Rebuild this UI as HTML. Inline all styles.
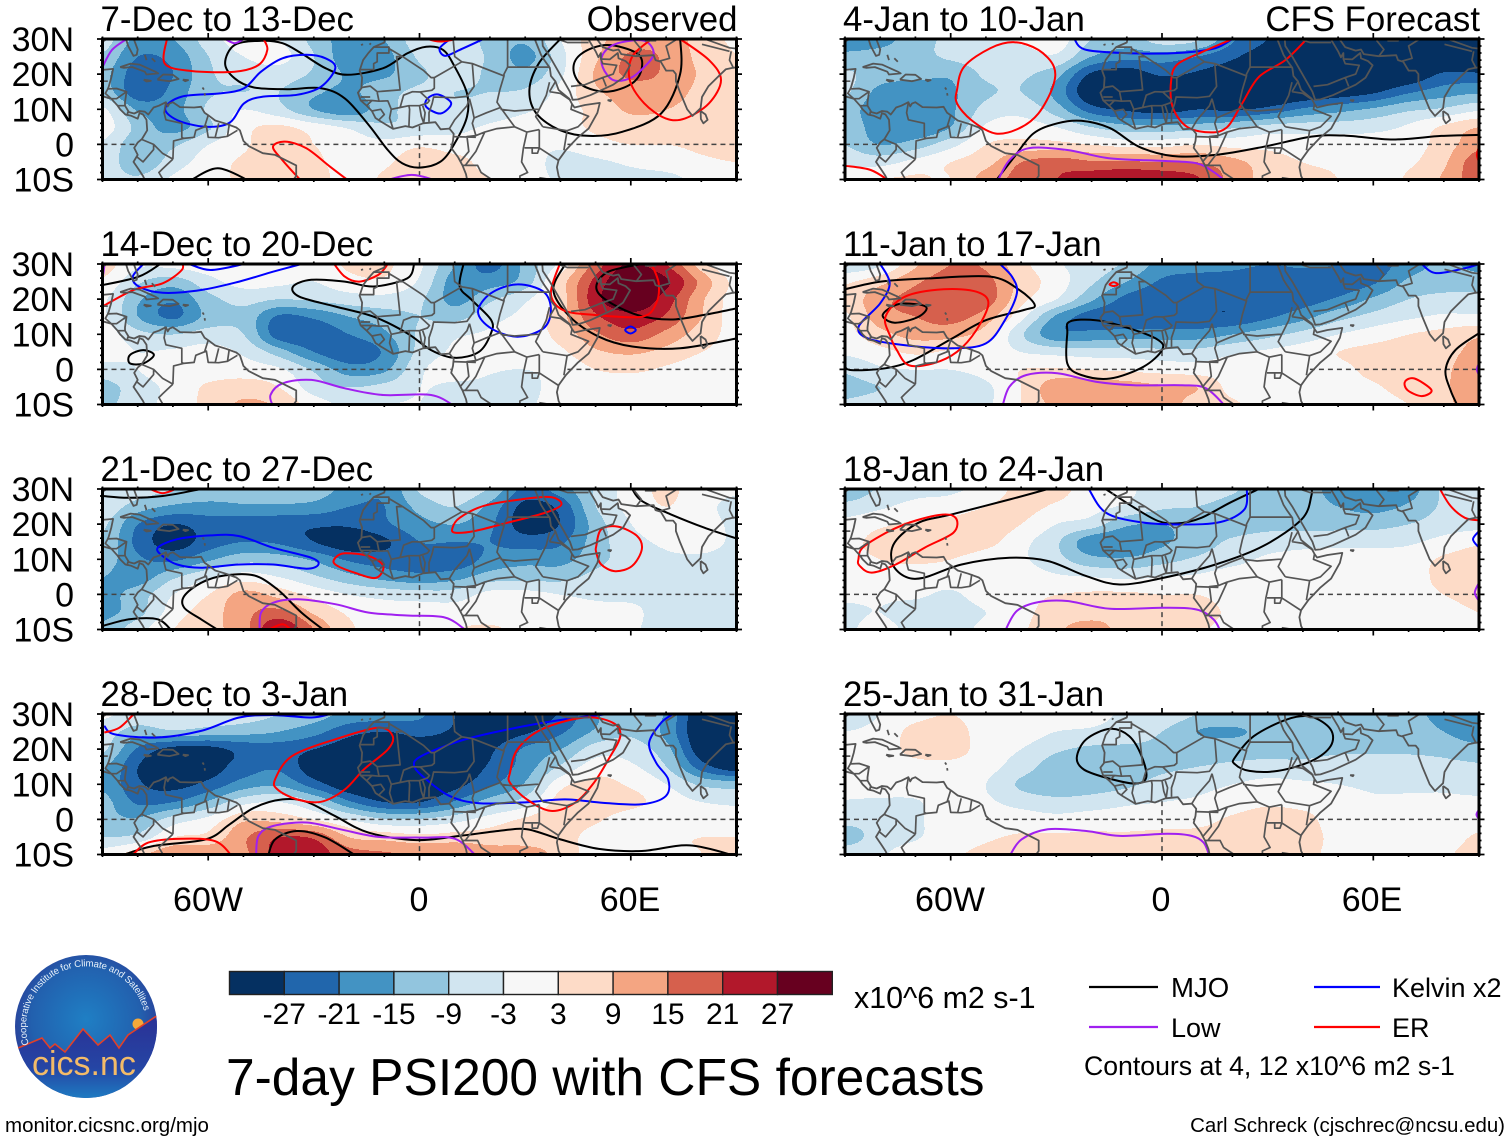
<!DOCTYPE html>
<html lang="en">
<head>
<meta charset="utf-8">
<title>7-day PSI200 with CFS forecasts</title>
<style>
html,body{margin:0;padding:0;background:#fff;width:1510px;height:1142px;overflow:hidden}
svg{display:block}
text{font-family:"Liberation Sans",Arial,sans-serif;fill:#000}
.t34{font-size:34px}.t30{font-size:30px}.t27{font-size:27px}.t20{font-size:20.45px}.tt{font-size:34.8px}
</style>
</head>
<body>
<svg id="figure" xmlns="http://www.w3.org/2000/svg" width="1510" height="1142" viewBox="0 0 1510 1142">
<defs>
<radialGradient id="logoSky" cx="50%" cy="45%" r="55%"><stop offset="0" stop-color="#1f7fc4"/><stop offset="0.7" stop-color="#2260ae"/><stop offset="1" stop-color="#2b3c97"/></radialGradient>
<linearGradient id="logoLand" x1="0" y1="0" x2="0" y2="1"><stop offset="0" stop-color="#2b2f94"/><stop offset="0.6" stop-color="#2545a4"/><stop offset="1" stop-color="#1c86c8"/></linearGradient>
<clipPath id="logoClip"><ellipse cx="86" cy="1026.5" rx="71" ry="71.5"/></clipPath>
</defs>

<g id="panels"></g>

<g>
<text class="t34" x="208" y="911" text-anchor="middle">60W</text>
<text class="t34" x="419" y="911" text-anchor="middle">0</text>
<text class="t34" x="630" y="911" text-anchor="middle">60E</text>
</g>
<g>
<text class="t34" x="950" y="911" text-anchor="middle">60W</text>
<text class="t34" x="1161" y="911" text-anchor="middle">0</text>
<text class="t34" x="1372" y="911" text-anchor="middle">60E</text>
</g>

<g id="colorbar"></g>
<text x="854" y="1008" style="font-size:30.4px">x10^6 m2 s-1</text>
<text x="226" y="1095" style="font-size:51.5px">7-day PSI200 with CFS forecasts</text>

<g>
<line x1="1089" x2="1158" y1="987" y2="987" stroke="#000" stroke-width="2.2"/>
<text class="t27" x="1171" y="997" style="font-size:27.6px">MJO</text>
<line x1="1314" x2="1380" y1="987" y2="987" stroke="#0000ff" stroke-width="2.2"/>
<text class="t27" x="1392" y="997">Kelvin x2</text>
<line x1="1089" x2="1158" y1="1027" y2="1027" stroke="#a020f0" stroke-width="2.2"/>
<text class="t27" x="1171" y="1037">Low</text>
<line x1="1314" x2="1380" y1="1027" y2="1027" stroke="#ff0000" stroke-width="2.2"/>
<text class="t27" x="1392" y="1037">ER</text>
<text x="1084" y="1075" style="font-size:26.65px">Contours at 4, 12 x10^6 m2 s-1</text>
</g>

<g>
<ellipse cx="86" cy="1026.5" rx="71" ry="71.5" fill="url(#logoSky)"/>
<g clip-path="url(#logoClip)">
<circle cx="138" cy="1024" r="5.5" fill="#f5a93a"/>
<path d="M10 1051L18 1048L42 1038L50 1048L55 1044L65 1052L83 1029L98 1045L110 1035L119 1048L128 1035L155 1017L165 1012V1105H10Z" fill="url(#logoLand)" stroke="none"/>
<path d="M10 1051L18 1048L42 1038L50 1048L55 1044L65 1052L83 1029L98 1045L110 1035L119 1048L128 1035L155 1017L165 1012" fill="none" stroke="#e0402a" stroke-width="1.6"/>
</g>
<path id="logoArc" d="M28.9 1044.5A60 60 0 1 1 144.7 1013.5" fill="none"/>
<text style="font-size:9.6px;fill:#e8f1fa"><textPath href="#logoArc" textLength="191">Cooperative Institute for Climate and Satellites</textPath></text>
<text x="32" y="1075" style="font-size:34px;fill:#f3bb68">cics.nc</text>
</g>

<text x="5" y="1132" style="font-size:20.5px">monitor.cicsnc.org/mjo</text>
<text class="t20" x="1505" y="1132" text-anchor="end">Carl Schreck (cjschrec@ncsu.edu)</text>
</svg>

<script>
// ---------- axes ----------
const gridLons = [-90,-80,-70,-60,-50,-40,-30,-20,-10,0,10,20,30,40,50,60,70,80,90];
const gridLats = [30,25,20,15,10,5,0,-5,-10];
const latTickLabels = ["30N","20N","10N","0","10S"];
const latTickValues = [30,20,10,0,-10];
const lonMajorTicks = [-60,0,60];
const bandEdges = [-27,-21,-15,-9,-3,3,9,15,21,27];
const bandColors = ["#053061","#2166ac","#4393c3","#92c5de","#d1e5f0","#f7f7f7","#fddbc7","#f4a582","#d6604d","#b2182b","#67001f"];

// ---------- shaded PSI200 anomaly fields (rows = gridLats, columns = gridLons) ----------
const psiDec07 = [
[-6,-17,-15,-6,0,-3,-11,-18,-15,-5,-5,-11,-14,-3,7,12,13,6,2],
[-10,-21,-19,-9,-3,-1,-9,-19,-17,-8,-6,-10,-17,-5,8,16,14,7,3],
[-13,-24.5,-21,-10,-7,-6,-10,-16,-16,-10,-7,-10,-13,-4,10,16,14,8,3],
[-11,-25,-19,-10,-9,-9,-14,-16,-11,-8,-9,-9,-8,-1,8,12,12,7,3],
[-2,-16,-17,-8,-3,-7,-15,-19,-11,-7,-8,-7,-4,0,5,10,9,6,4],
[0,-11,-17,-10,1,4,0,-4,-8,-7,-5,-2,0,1,4,6,6,5,5],
[-4,-13,-10,-3,2,7,3,0,-1,2,0,0,-1,-2,1,3,3,4,5],
[-5,-13,-6,0,4,6,4,1,2,7,5,1,0,-5,-4,-2,0,2,3],
[-6,-8,-2,1,4,5,5,1,4,8,5,3,0,-4,-5,-5,-5,-1,1]];
const psiDec14 = [
[6,-2,-1,0,-1,-3,-1,4,4,-2,-15,-23,-13,-1,18,28,21,6,-3],
[2,-8,-12,-5,-1,-2,-3,1,2,-4,-18,-18,-12,6,23,33,28,13,1],
[-2,-14,-20,-11,-7,-9,-8,-6,-5,-8,-17,-10,-4,6,25,32,24,10,0],
[-2,-15,-22,-13,-11,-22,-20,-15,-12,-9,-11,-5,-1,7,20,25,20,9,0],
[0,-7,-9,-6,-9,-24,-25,-21,-16,-8,-4,-2,0,5,14,19,13,6,1],
[0,-3,-2,-1,-4,-12,-21,-25,-20,-7,-2,0,0,2,8,10,7,3,1],
[-6,-3,1,0,0,-2,-10,-18,-16,-4,-1,-2.5,-3,-1,3,4,2,0,0],
[-11,-6,-1,4,6,3,-6,-9,-7,-3,-4,-4,-5,0,0,0,0,0,0],
[-11,-5,-1,5,10,8,0,-4,-3,-3,-5,-4,-4,0,0,0,0,0,0]];
const psiDec21 = [
[-3,-6,-9,-11,-11,-11,-12,-17,-20,-8,-5,-10,-23,-18,-8,0,4,0,-2],
[-5,-12,-16,-17,-16,-16,-17,-21,-21,-13,-9,-17,-29,-25,-9,-1,3,-1,-5],
[-8,-21,-27,-24,-24,-25,-26,-26,-22,-17,-15,-20,-30,-26.5,-12,-3,0,-1,-4],
[-10,-23,-30,-24,-21,-22,-27,-31,-28,-21,-21,-21,-24,-22,-12,-5,-2,-1,-4],
[-12,-20,-22,-16,-11,-12,-16,-22,-24,-24,-25,-19,-17,-17,-11,-6,-4,-4,-5],
[-15,-18,-10,-4,0,-3,-8,-13,-17,-19,-17,-12,-11,-11,-7,-5,-5,-5,-5],
[-17,-12,-3,3,11,7,1,-3,-5,-6,-6,-1,-1,-3,-4,-4,-4,-4,-5],
[-17,-11,0,6,13,17,8,2,0,0,0,0,0,-1,-1,-2,-5,-5,-6],
[-13,-5,3,7,13,27,15,4,2,2,3,4,1,0,3,-2,-5,-5,-6]];
const psiDec28 = [
[-2,-5,-3,-4,-6,-9,-12,-17,-18,-20,-27,-32,-32,-26,-16,-10,-16,-33,-34],
[-6,-12,-10,-12,-13,-15,-19,-25,-27,-25,-28,-31,-28,-22,-14,-10,-17,-33,-34],
[-8,-22,-29,-29,-25,-24,-27,-31,-33,-32,-32,-28,-20,-15,-6,-6,-13,-31,-33],
[-14,-27,-32,-30,-24,-22,-31,-35,-36,-35,-32,-26,-18,-8,0,-2,-9,-24,-31],
[-16,-26,-29,-25,-18,-16,-24,-32,-34,-33,-29,-22,-14,1,5,2,-3,-10,-12],
[-13,-22,-21,-14,-5,-3,-9,-20,-27,-27,-20,-12,-6,6,8,5,0,-3,-4],
[-13,-14,-6,-1,8,7,3,-3,-8,-8,-5,0,4,7,4,-1,0,0,-1],
[-9,-7,3,5,14,21,20,9,7,5,6,6,6,6,0,-1,2,3,3],
[0,7,15,14,14,23,24,18,16,15,15,12,12,7,0,-1,2,3,6]];
const psiJan04 = [
[-20,-18,-11,-8,-5,-2,0,-9,-12,-6,-8,-20,-27,-32,-33,-33,-33,-33,-33],
[-13,-12,-11,-8,-6,-6,-4,-15,-19,-18,-21,-26,-31,-34,-36,-36,-36,-36,-36],
[-8,-12,-13,-14,-8,-8,-13,-28,-31,-26,-28,-31,-34,-36,-36,-35,-33,-26,-26],
[-8,-17,-19,-16,-10,-9,-17,-33,-36,-35,-32,-34,-35,-33,-31,-28,-22,-18,-16],
[-12,-19,-19,-16,-7,-5,-12,-24,-28,-30,-27,-28,-25,-20,-17,-14,-10,-8,-4],
[-10,-19,-20,-15,-2,0,-3,-9,-13,-13,-12,-10,-7,-6,-6,-5,-2,4,9],
[-9,-15,-12,-5,3,5,5,3,1,1,3,1,1,0,0,0,0,6,13],
[-4,-5,-1,3,7,15,18,16,16,15,15,11,6,3,2,1,2,8,19],
[0,3,4,3,12,17,21,25,27,26,22,13,7,5,3,0,4,10,19]];
const psiJan11 = [
[-8,-4,8,15,14,5,-2,-6,-10,-17,-17,-19,-21,-20,-21,-24,-18,-14,-17],
[2,7,14,18,17,7,0,-8,-15,-22,-25,-25,-26,-25,-25,-22,-14,-12,-12],
[5,13,17,18.5,18,5,-3,-14,-23,-26,-26,-26,-26,-24,-20,-14,-9,-7,-7],
[2,12,15,17,12,-1,-16,-24,-25,-26,-26,-26,-22,-17,-11,-7,-4,-2,-2],
[1,7,11,11,6,-8,-19,-19,-18,-18,-18,-15,-11,-7,-3,0,3,5,8],
[-2,1,4,2,1,-3,-5,-6,-6,-7,-7,-4,-2,0,3,5,6,7,11],
[-8,-4,-3,-3,-1,3,4,3,2,1,0,0,0,0,1,5,7,8,13],
[-11,-9,-7,-6,-4,3,13,13,12,10,9,1,0,0,0,2,6,8,14],
[-8,-6,-5,-5,-4,3,11,12,13,14,5,4,0,0,0,0,3,7,14]];
const psiJan18 = [
[-14,-8,-5,-4,-1,5,5,0,-2,-5,-4,-8,-13,-12,-18,-20,-18,-8,-6],
[-7,-4,-1,0,3,5,2,-1,-4,-8,-9,-12,-14,-12,-15,-17,-14,-8,-6],
[-1,2,4,5,6,3,-3,-6,-14,-15,-12,-12,-11,-11,-11,-11,-9,-6,-5],
[1,5,7,7,5,-1,-8,-19,-20,-16,-12,-8,-6,-5,-5,-5,-4,-1,2],
[1,3,4,3,0,-2,-7,-13,-14,-11,-8,-5,-2,-1,0,0,0,4,6],
[0,1,0,0,0,0,-2,-3,-4,-3,-2,0,0,0,0,0,0,5,7],
[-2,-2,-2,-4,0,1,3,4,4,3,3,1,0,0,0,0,0,3,6],
[-4,-3,-6,-6,-3,1,6,7,7,6,5,2,0,0,0,0,0,0,3],
[-4,-1,-5,-6,-1,2,8,11,7,6,4,1,0,0,0,0,0,0,0]];
const psiJan25 = [
[-6,-3,1,3,0,0,0,-1,-4,-4,-9,-10,-10,-10,-11,-11,-12,-18,-20],
[-3,-1,5,6,0,0,-3,-4,-6,-9,-15,-16,-13,-11,-11,-11,-11,-15,-19],
[0,0,5,6,0,-3,-8,-10,-10,-10,-11,-11,-11,-11,-10,-10,-10,-11,-13],
[2,0,1,1,-1,-6,-12,-11,-11,-10,-9,-8,-7,-7,-6,-6,-6,-7,-8],
[0,0,0,0,-3,-10,-13,-12,-10,-7,-5,-3,-1,-2,-3,-4,-4,-4,-5],
[-3.5,-4,-3.5,0,-2,-5,-7,-6,-4,-3,-2,0,2,1,0,-2,-2,-2,-2],
[-7,-7,-4,0,0,0,-1,0,0,0,1,4,6,5,0,0,0,0,0],
[-12,-6,-3.5,0,2,4,4,4,4,5,5,6,7,6,1,0,0,0,4],
[-5,-3.5,0,2,5,9,6,4,4,5,5,6,7,5,1,0,0,2,6]];

// ---------- contour series, [lon, lat] vertices; a repeated first vertex closes the contour ----------
const dec07Mjo = [
[[-45,29.5],[-52.5,28.3],[-55.2,23.1],[-52.5,18.8],[-47,16.2],[-37.6,15.7],[-28,16],[-21.2,13.1],[-14.4,5.5],[-9,-1.6],[-4.9,-5.4],[0,-6.6],[6,-4.9],[10,.3],[13.5,7.9],[13.5,14.5],[10,22.1],[6.7,26.9],[1.9,27.8],[-3.5,25.9],[-10.3,21.7],[-20.5,19.8],[-26.7,21.7],[-33.5,25.9],[-38.9,28.8],[-45,29.5]],
[[40,30],[33.9,23.1],[31.2,15.5],[33.2,8.8],[40,4],[48.2,2.4],[57.7,3.6],[68.6,8.8],[74,20],[74,30.5]],
[[53.3,28.3],[61.8,25.9],[63.1,21.7],[60.4,17.4],[53.3,15],[46.1,16.9],[43.7,21.7],[46.1,25.9],[53.3,28.3]],
[[-64.5,-11],[-64,-9.7],[-57.3,-6.8],[-49.8,-9.7],[-49,-11]]];
const dec07Kelvin = [
[[-23.9,21.7],[-26.7,24.5],[-32.1,25.5],[-38.9,24.5],[-45,20.7],[-49.8,16],[-56.6,14.5],[-67.5,13.6],[-72.2,10.3],[-68.8,6.9],[-60.7,5],[-53.9,6.2],[-49.8,11.7],[-44.4,13.6],[-34.8,14.1],[-28,16.4],[-23.9,21.7]],
[[18.2,30],[11.4,26.9],[7.3,25.2],[5.7,27.3],[8.7,30]],
[[5.3,14.2],[9,11.7],[6,8.8],[1.9,10.7],[2.3,13.1],[5.3,14.2]]];
const dec07Low = [
[[-90,22],[-87.3,26.9],[-83.1,30]],
[[-55.2,30],[-52.5,28.8],[-49.8,30]],
[[-10.3,-10.5],[-2.2,-8.7],[5.3,-10.5]],
[[52.2,25.9],[56.3,28.8],[63.8,29.5],[66.5,25.9],[63.8,22],[59.7,18.8],[55,18.3],[52,22],[52.2,25.9]]];
const dec07Er = [
[[-71.6,30.5],[-72.3,23],[-64.8,20.9],[-52.5,20.7],[-45.7,22.6],[-43.2,26.9],[-44.3,30]],
[[-33.5,-10.5],[-38.9,-4.5],[-41.6,-.7],[-38.2,.8],[-32.1,-1.1],[-25.3,-6.4],[-19.9,-10.5]],
[[65.9,30],[60.4,25],[59.7,18.3],[63.8,11.7],[69.9,7.4],[75.4,7.4],[82.2,11.7],[85.6,18.3],[82.2,24],[74,30]],
[[1.2,30.3],[5.9,29.3],[12.1,30.3]]];

const dec14Mjo = [
[[-90,24],[-79.7,26.4],[-73.6,30]],
[[-78.4,5.5],[-75.4,4.1],[-78.4,1.7],[-82.2,1.7],[-82.2,4.1],[-78.4,5.5]],
[[-1.5,30],[-3.5,25.9],[-13,23.6],[-21.2,25],[-30.7,25.5],[-35.9,23.6],[-34.1,20.7],[-23.9,17.9],[-13,15],[-3.5,10.3],[3.3,5.5],[10,3.3],[16.9,5],[20.3,10.3],[20.3,14.1],[14.8,19.8],[11.4,23.6],[12.5,30]],
[[41.4,30],[38,22.6],[42.7,15],[50.9,9.3],[60.4,6.5],[74,6],[90,8.8]],
[[63,30],[53.6,27.8],[50.2,23.6],[52.9,19.8],[61.8,15.5],[71.3,14.2],[80.8,15.5],[90,17.4]]];
const dec14Kelvin = [
[[-78.4,30],[-81.4,26.4],[-79.7,23.6],[-72.9,21.8],[-62,22.6],[-51.2,25],[-41.6,27.8],[-33.5,30]],
[[-65.4,30],[-59.3,28.3],[-49.8,30]],
[[27.8,24.2],[35.2,22.1],[37.3,16.9],[35.2,11.7],[27.8,9.3],[20.3,11.7],[16.6,16.4],[20.3,21.7],[27.8,24.2]],
[[59.9,12.2],[61.4,11.2],[59.9,10.2],[58.4,11.2],[59.9,12.2]]];
const dec14Low = [
[[-41.6,-10.5],[-42.3,-7.3],[-38.9,-4],[-30.7,-3],[-21.2,-5.4],[-10.3,-7.3],[3.3,-7.3],[10,-10.5]],
[[-89.4,30],[-89.8,27]]];
const dec14Er = [
[[-90,17.9],[-81.2,22.6],[-72.9,24.5],[-67.5,28.3],[-67.5,30.5]],
[[-24.6,30.5],[-21.2,26.4],[-17.1,25],[-11.7,26.9],[-9,30]],
[[40,30.5],[37.3,21.7],[40.7,16.9],[49.5,15.5],[63.1,15],[67.2,18.8],[67.9,24.5],[65.9,30]]];

const dec21Mjo = [
[[-90,28],[-82.4,27.5],[-72.9,28],[-62,30]],
[[-56.6,-10.5],[-62,-7.1],[-66.8,-3.8],[-66.8,-.5],[-62,3.3],[-55.2,5.4],[-47,5.4],[-40.3,1.4],[-33.5,-5.2],[-26.7,-10.5]],
[[-90,-9],[-82.4,-7.1],[-74.3,-7.1],[-70.2,-10.5]],
[[60.4,30],[63.1,26.6],[71.3,22.8],[80.8,19],[90,15.9]]];
const dec21Kelvin = [
[[-74.3,13.3],[-68.8,15.7],[-59.3,16.8],[-51.2,16.6],[-41.6,13.3],[-30.7,10.4],[-28.7,8.5],[-32.1,7.3],[-41.6,8.5],[-51.2,8.5],[-62,7.6],[-68.8,8.5],[-72.9,10.9],[-74.3,13.3]]];
const dec21Low = [
[[-45.4,-10.5],[-45,-5.2],[-41.6,-2.4],[-34.8,-1.4],[-23.9,-2.8],[-14.4,-5.2],[-3.5,-6],[7.3,-6.6],[13.5,-10.5]]];
const dec21Er = [
[[-77,30.2],[-72.9,28.8],[-68.8,30.2]],
[[9.4,19],[11.4,21.8],[18.2,25.2],[29.1,27.1],[37.3,27.7],[40.3,25.6],[35.9,23.3],[25,20.4],[15.5,18],[10,17.6],[9.4,19]],
[[-23.9,10.4],[-21.2,11.7],[-14.4,10.9],[-10.3,8.1],[-12.4,4.7],[-18.5,6.2],[-23.9,8.5],[-23.9,10.4]],
[[50.2,13.8],[51.6,18.5],[56.3,19.3],[61.8,16.6],[63.1,12.8],[60.4,8.1],[55.6,6.6],[51.6,8.5],[50.2,11.9],[50.2,13.8]],
[[-43.7,-10.5],[-38.9,-8.5],[-36.2,-10.5]]];

const dec28Mjo = [
[[-85.2,-10.5],[-75.7,-7.6],[-60.7,-5.7],[-53.9,-1.4],[-47,3.3],[-38.9,5.7],[-32.1,5],[-23.9,.9],[-14.4,-3.8],[-.8,-5.9],[11.4,-4.7],[22.3,-3.3],[30.5,-2.8],[40,-5.7],[50.9,-8.4],[63.1,-9],[76.7,-7.4],[90,-10.5]],
[[-43,-10.5],[-41,-5.7],[-34.8,-3.3],[-26.7,-5.2],[-17.8,-10.5]]];
const dec28Kelvin = [
[[-89.5,26.6],[-86.5,24.2],[-74.3,23.3],[-62,25.2],[-51.2,29],[-41.6,29.7],[-30.7,29],[-25.3,30]],
[[53.6,30],[41.4,28.5],[25,25.6],[11.4,22.3],[.5,18],[-1.5,15.2],[1.9,11.4],[8.7,6.6],[16.9,4.6],[30.5,4.9],[41.4,5.7],[52.2,4.7],[63.1,4.3],[69.9,6.6],[70.6,11.4],[67.2,16.1],[65.2,21.8],[68.6,27.5],[72,30]]];
const dec28Low = [
[[-46.4,-10.5],[-45.7,-4.7],[-41.6,-1.9],[-32.1,-.9],[-22.6,-2.8],[-11.7,-5],[.5,-5.2],[10,-5.5],[16.2,-10.5]]];
const dec28Er = [
[[-89.5,24.7],[-85.2,26.1],[-81.1,30]],
[[-81.8,-10.5],[-77,-6.6],[-67.5,-5.5],[-58,-6.2],[-53.2,-10.5]],
[[-41,11.4],[-36.2,18],[-23.9,22.8],[-11.7,26.1],[-7.6,23.7],[-9,19.9],[-15.8,14.2],[-21.2,8.5],[-28,5],[-34.8,5.7],[-40.3,8.5],[-41,11.4]],
[[25.7,13.3],[27.8,19.9],[34.6,25.6],[46.8,29],[54.9,27.5],[57,23.7],[53.6,17],[49.5,10.4],[44.1,4.7],[37.3,2.4],[30.5,5.7],[25.7,10.4],[25.7,13.3]]];

const jan04Mjo = [
[[-47.3,-10.5],[-41.9,-3.5],[-36.5,3.1],[-29.7,6],[-22.9,6.7],[-14.7,4.6],[-6.5,-.7],[3,-3.3],[15.2,-3],[28.8,-.7],[42.4,2.2],[52,2.5],[65.6,1.4],[79.3,2.4],[90,2.7]]];
const jan04Kelvin = [
[[-24.9,30],[-21.5,26.9],[-7.9,25.9],[5.7,26.1],[15.2,27.4],[20,30]]];
const jan04Low = [
[[-46.7,-10.5],[-43.3,-4.5],[-37.8,-1.1],[-26.9,-1.6],[-14.7,-4],[.3,-4.7],[9.8,-5.4],[14.6,-7.8],[18,-10.5]]];
const jan04Er = [
[[-58.2,15.5],[-56.2,22.1],[-48.7,27.4],[-41.9,29.1],[-35.1,26.9],[-30.7,22.1],[-31,16.4],[-35.1,8.8],[-40.5,4.6],[-47.3,3.1],[-54.1,6.9],[-58.2,11.7],[-58.2,15.5]],
[[41.1,30],[35,24],[27.5,19.2],[22.7,11.6],[18.6,5],[13.9,3.4],[7.1,5],[3,10.7],[2.6,18.3],[4.4,22.8],[11.2,26.2],[20,30]],
[[-90,-6.1],[-82.7,-7.3],[-77.3,-10.5]],
[[90,-.7],[89.4,-3],[90,-5]]];

const jan11Mjo = [
[[-90,22.8],[-79.9,25],[-66.4,25.9],[-48.7,26.4],[-40.5,22.6],[-36.1,18.3],[-39.2,16.9],[-50,14],[-59.6,8.8],[-70.5,2.7],[-78.6,.3],[-88.1,-.2],[-90,.8]],
[[-79.3,15.5],[-74.6,18.6],[-67.1,17.9],[-69.1,15],[-75.9,13.3],[-79.3,15.5]],
[[-26.9,10.3],[-26.2,13.6],[-18.8,14],[-9.3,11.7],[-1.1,8.4],[0,5.5],[-5.2,.8],[-14.7,-2.6],[-22.9,-1.6],[-26.9,1.7],[-26.9,10.3]],
[[90,10.3],[83.3,5.5],[80.5,-.2],[81.9,-5.9],[84,-10.5]]];
const jan11Kelvin = [
[[-80,30],[-77.3,24.5],[-80,18.8],[-86.1,12.2],[-83.4,8.8],[-73.2,6.9],[-59.6,6],[-50,7.4],[-44.6,14],[-41.2,21.7],[-42.6,26.4],[-46,30]],
[[73.7,30],[77.8,27.4],[86,28.8],[90,30]]];
const jan11Low = [
[[-45.3,-10.5],[-43.3,-4.9],[-38.5,-1.6],[-29.7,-1.1],[-18.8,-3.5],[-7.9,-4.5],[5.7,-4.5],[12.5,-5.4],[18,-10.5]],
[[90,1.7],[89.4,0],[90,-1.6]]];
const jan11Er = [
[[-77.1,9.3],[-78.5,15],[-73,20.7],[-62,22.8],[-52.7,22.1],[-49.3,18.8],[-52.7,11.2],[-58.2,5],[-65,1.7],[-71.9,1.2],[-75.3,5.5],[-77.1,9.3]],
[[-13.7,24.8],[-12.5,24.2],[-13.7,23.7],[-14.9,24.2],[-13.7,24.8]],
[[69,-3.5],[71.7,-2.6],[76.5,-5.9],[73.7,-7.6],[69.7,-5.9],[69,-3.5]]];

const jan18Mjo = [
[[-32.4,30],[-43.3,27],[-59.6,22.8],[-69.1,20.4],[-75.9,14.8],[-76.6,9],[-73.2,5.2],[-67.8,4.7],[-56.9,8.5],[-43.3,10.4],[-32.4,9.5],[-21.5,5.2],[-12,2.8],[.3,4.7],[15.2,8.5],[28.8,13.8],[39.7,21.4],[42.4,28],[42.4,30.5]],
[[-16,30],[-7.9,24.7],[-1.1,20.9],[4.4,20.2],[11.2,21.8],[19.3,26.1],[27.5,30]]];
const jan18Kelvin = [
[[-20.8,30],[-16,23.3],[-6.5,20.6],[5.7,19.9],[16.6,20.6],[23.4,24.2],[24.1,30]],
[[90,18],[88.3,15.7],[90,13.3]]];
const jan18Low = [
[[-44.6,-10.5],[-41.2,-4.7],[-35.1,-2.2],[-26.9,-1.9],[-14.7,-4.1],[.3,-3.8],[9.8,-4.3],[14.6,-7.1],[16.6,-10.5]],
[[90,3.3],[88.8,.5],[90,-1.9]]];
const jan18Er = [
[[-86.2,10],[-84.4,13.8],[-74.2,19.5],[-63.3,22.6],[-58.6,21.8],[-59.2,17.6],[-67.4,13.3],[-75.6,8.5],[-82.4,6.2],[-85.8,8.1],[-86.2,10]],
[[78.9,30],[81.9,25.2],[86,21.8],[90,21.1]]];

const jan25Mjo = [
[[-24.2,17.6],[-21.5,22.8],[-14.7,25.8],[-9.3,23.7],[-5.8,18],[-4.5,11.9],[-7.9,10.2],[-16,11.9],[-22.2,14.2],[-24.2,17.6]],
[[20.7,17.6],[26.1,23.7],[35.6,28.5],[42.4,29.2],[47.9,25.6],[47.9,20.9],[42.4,16.6],[32.9,13.8],[24.8,13.8],[20.7,15.7],[20.7,17.6]]];
const jan25Kelvin = [];
const jan25Low = [
[[-43.3,-10.5],[-39.9,-5.7],[-32.4,-2.8],[-21.5,-3.3],[-12,-4.7],[1.6,-4.1],[8.4,-4.7],[11.8,-6.6],[13.5,-10.5]],
[[90,2.8],[89.3,1.4],[90,0]]];
const jan25Er = [];

// ---------- political map, [lon, lat] vertices ----------
const coastlines = [
[[-90,13.7],[-87.5,13],[-85.7,11],[-85,10],[-83.5,8.5],[-82,8.2],[-80,7.3],[-79.5,8.9],[-78.5,8.5],[-77.5,7],[-77.3,4],[-78.8,1.5],[-80,.5],[-81,-1],[-80,-3],[-81.2,-5],[-79.8,-7],[-78.5,-9],[-77.8,-10.5]],
[[-90,21.2],[-87,21.5],[-87.5,19],[-88.2,16.5],[-88.5,15.8],[-86,15.9],[-83.2,15],[-83.6,12],[-83.6,11],[-82.5,9.2],[-81,8.8],[-79.5,9.5],[-78,9.3],[-77,8.5],[-75.5,10.5],[-74,11],[-72,12],[-71.5,10.8],[-71,11.6],[-70,12],[-68,10.6],[-64,10.5],[-62,10.7],[-61,9],[-60,8.3],[-58,6.8],[-55,5.9],[-52,4.8],[-51,4],[-50,1],[-48.5,-.5],[-44.5,-2.5],[-41,-3],[-37,-5],[-35,-6],[-35,-9],[-36.5,-11]],
[[-90,29.2],[-88,30.5]],
[[-83.5,30.5],[-82.7,28],[-81.2,25.2],[-80.3,25.5],[-80,27],[-81.3,30.5]],
[[-85,22],[-82,23],[-79.5,22.7],[-75,20.7],[-74.2,20.2],[-77.5,19.9],[-78,20.7],[-81.5,22],[-84,21.8],[-85,22]],
[[-74.4,18.4],[-72.8,19.9],[-70,19.8],[-68.4,18.6],[-71,18],[-74.4,18.4]],
[[-78.3,18.4],[-76.3,18.1],[-77.5,17.9],[-78.3,18.4]],
[[-67.2,18.4],[-65.7,18.3],[-66.5,18],[-67.2,18.4]],
[[-78,25.5],[-77.5,24]],[[-76,24.5],[-75,23.5]],[[-61.6,16.2],[-61.2,15.6]],[[-61,14.6],[-60.9,13.9]],
[[-9.7,30.5],[-10,29],[-13,27.7],[-14.5,26],[-16,24],[-17,21],[-16.3,19],[-16.5,16],[-17.5,14.7],[-16.7,12.5],[-15,11],[-13.5,9.5],[-12.5,7.5],[-11,6.5],[-7.5,4.4],[-4,5.2],[-2,4.8],[1,6],[4.5,6.3],[6,4.3],[8.5,4.5],[9.7,3],[9.5,1],[9,-1],[11,-3.7],[12.2,-6],[13.2,-8.5],[13.7,-11]],
[[32.5,30.5],[33.5,28],[34.5,25.5],[35.5,23.9],[37,21.8],[37.3,19.5],[38.6,17.9],[39.5,15.5],[42.5,13],[43.3,11.5],[44,10.5],[47,11.2],[51.2,11.8],[50.5,9],[48,4.5],[45,2],[41.5,-1.7],[39.5,-4.5],[39,-6.5],[39.5,-9],[40.5,-11]],
[[34.8,30.5],[35,28],[37,25],[39,21.5],[41,18],[42.7,15],[43.5,12.7],[45,12.8],[48.5,14],[52.2,15.7],[55,17],[57.8,19],[59.8,22.5],[58.5,23.7],[56.5,24.5],[56.3,26],[54,24.2],[51.5,24.3],[51.5,26],[50.8,24.8],[50,26.5],[48.2,29.5],[48,30.5]],
[[48.5,30.5],[50.5,29.8],[52,27.7],[55,26.7],[56.5,27],[57.3,25.7],[61.5,25.1],[66.5,25.4],[67,24],[68.5,23.5],[70,21],[72,21],[72.8,20],[72.8,18],[74,14.8],[76,10],[77.5,8.1],[79.8,10.3],[80.2,13.5],[82,16.5],[85,19.5],[87,21.4],[89,21.8],[90.5,22]],
[[79.8,9.5],[81.2,8.5],[81.8,7],[80.6,6],[79.9,7.2],[79.8,9.5]],
[[53.4,12.6],[54.4,12.6],[54.2,12.3],[53.4,12.6]],
[[-16.6,28.3],[-16,28.5]],[[-14.2,28.4],[-13.8,28.8]]];
const borders = [
[[-88.5,15.8],[-89.2,14.5],[-87.5,13]],[[-83.2,15],[-86,13],[-87.5,13]],[[-83.7,11],[-85.7,11]],[[-82.8,9.3],[-83,8.2]],[[-88.5,18],[-89,18],[-91,18]],
[[-72,12],[-72.5,9],[-72,7],[-67.5,6],[-67.5,2],[-67,1.7]],[[-70,-4.2],[-69.8,1],[-67,1.7]],[[-70,-4.2],[-73,-2.5],[-75.5,0],[-78.8,1.4]],[[-80.3,-3.5],[-78.5,-5],[-75.5,-1.5],[-75.5,0]],[[-70,-4.2],[-73,-7],[-74,-8],[-72.5,-10.5]],
[[-60,8.3],[-61,5],[-60.5,5.2]],[[-67,1.7],[-64,2],[-63.5,4],[-60.5,5.2],[-60,2],[-57,1.9],[-54.5,2.3],[-51.7,4]],[[-57,6],[-58,2]],[[-54,5.8],[-54.5,2.3]],
[[-13,27.7],[-8.7,27.7],[-8.7,26],[-12,26],[-12,23.5],[-13,23],[-13,21.3],[-17,21.3]],
[[-8.7,27.3],[-4.8,25],[-6.5,25],[-5.5,15.5],[-12,15],[-14,16.6],[-16.4,16.2]],
[[-4.8,25],[1.2,21],[3.3,19],[4.2,19],[4.2,16],[3.5,15.4],[.2,14.9],[-2,15],[-4.5,14],[-5.5,10.5],[-3,11],[0,11],[2.3,11.8],[2.8,12.5],[.2,14.9]],
[[9.5,30.5],[10,25],[12,23.5],[15,23],[24,19.5],[24,20],[25,22],[25,30.5]],[[25,22],[36.9,22]],[[4.2,19],[12,23.5]],
[[24,19.5],[22.8,15.5],[22,12],[23,10.5]],[[15,23],[15.5,16.5],[13.5,13.7],[10,13.3],[4,13.5],[3.6,11.7],[2.7,9],[2.7,6.4]],
[[1.2,6.1],[1.6,9],[.9,11]],[[1.2,6.1],[.5,8],[0,11]],[[-3,5],[-2.8,10],[-3,11]],
[[-7.5,4.4],[-8.5,7.5],[-8,10],[-5.5,10.5]],[[-15,11],[-13.5,12.5],[-11.5,12.3],[-9,12.4],[-8,10]],[[-13.5,9.5],[-11,10],[-10,8.5],[-11.5,7]],[[-12,14.8],[-11.5,12.3]],[[-16.7,12.5],[-13.5,12.5]],[[-16.7,13.5],[-14,13.5]],
[[8.5,4.5],[10,7],[13.5,11],[14.2,13]],[[14.2,13],[15,10],[15.5,7.5],[19,9],[23,10.5],[27,5],[22,4.5],[18.5,3.5],[16,2.5],[15,6],[15.5,7.5]],
[[16,2.5],[13.5,2.2],[14,-2],[11.5,-5]],[[9.7,2.2],[16,2]],[[18.5,3.5],[16,-2],[13,-6]],[[12.2,-6],[16.5,-6],[17.5,-8],[22,-11]],[[27,5],[30.5,3.5],[29.5,-1],[29,-5],[30.7,-8],[28.5,-9],[28.5,-11]],
[[23,10],[27,9.5],[33,10],[34.1,10]],[[36.9,17.7],[36,14],[34,10],[33,7.9],[35,5]],[[35,5],[41.9,3.9],[41,-1.7]],[[34,4.2],[34,-1],[39.5,-4.6]],[[30.5,3.5],[34,4.2]],[[29.8,-1],[34,-1]],[[34,-9.5],[40.5,-10.5]],
[[41.9,3.9],[45,5],[48,8],[43,10],[43.3,11.5]],[[36.9,15],[38.6,17.9]],[[36.9,15],[40,14.5],[43,12.5]],[[32,-1],[34,-1],[33.5,-2.5],[32,-2.5],[32,-1]],
[[37,30],[39,30],[42,29],[46,29],[48,29]],[[43,16.5],[47,17],[52,19],[55,20],[56,22.5],[52,23],[51.5,24.3]],[[53,16.5],[52,19]],
[[61.5,25],[63,27],[61,29.5],[61,30.5]],[[68.2,23.7],[71,24.5],[70,28],[74,30.5]],[[79,30.5],[81,30],[88,27.5],[92,27]],[[80.2,28.5],[88,26.5]],[[88.5,26.5],[88,24],[89,22]],[[75,30.5],[79,30.5]],[[66,30],[67,29.5],[64,29.5]]];
const equatorOceanSpans = [[-90,-80],[-50,9],[42,90]];
const meridianOceanSpan = [5.2,-10];

// ---------- panels ----------
const panelTitles = ["7-Dec to 13-Dec","14-Dec to 20-Dec","21-Dec to 27-Dec","28-Dec to 3-Jan","4-Jan to 10-Jan","11-Jan to 17-Jan","18-Jan to 24-Jan","25-Jan to 31-Jan"];
const panelFields = [psiDec07,psiDec14,psiDec21,psiDec28,psiJan04,psiJan11,psiJan18,psiJan25];
const panelMjo = [dec07Mjo,dec14Mjo,dec21Mjo,dec28Mjo,jan04Mjo,jan11Mjo,jan18Mjo,jan25Mjo];
const panelKelvin = [dec07Kelvin,dec14Kelvin,dec21Kelvin,dec28Kelvin,jan04Kelvin,jan11Kelvin,jan18Kelvin,jan25Kelvin];
const panelLow = [dec07Low,dec14Low,dec21Low,dec28Low,jan04Low,jan11Low,jan18Low,jan25Low];
const panelEr = [dec07Er,dec14Er,dec21Er,dec28Er,jan04Er,jan11Er,jan18Er,jan25Er];

const SVGNS = "http://www.w3.org/2000/svg";
const LON_MIN = -90, LON_MAX = 90, LAT_MAX = 30, LAT_MIN = -10;
const PLOT_W = 634, PLOT_H = 140.5;
const COL_X = [102.5, 845], ROW_Y = [39, 264, 489, 714];

function mk(tag, parent, attrs) {
  const el = document.createElementNS(SVGNS, tag);
  for (const k in attrs) el.setAttribute(k, attrs[k]);
  parent.appendChild(el);
  return el;
}
function xScale(x0, lon) { return x0 + (lon - LON_MIN) / (LON_MAX - LON_MIN) * PLOT_W; }
function yScale(y0, lat) { return y0 + (LAT_MAX - lat) / (LAT_MAX - LAT_MIN) * PLOT_H; }

function cr(a, b, c, d, t) {
  return 0.5 * ((2 * b) + (c - a) * t + (2 * a - 5 * b + 4 * c - d) * t * t + (3 * b - a - 3 * c + d) * t * t * t);
}
function sampleField(f, lon, lat) {
  const nx = gridLons.length, ny = gridLats.length;
  const fx = Math.min(nx - 1.0001, (lon - gridLons[0]) / (gridLons[1] - gridLons[0]));
  const fy = Math.min(ny - 1.0001, (gridLats[0] - lat) / (gridLats[0] - gridLats[1]));
  const i = Math.max(0, Math.floor(fx)), j = Math.max(0, Math.floor(fy));
  const tx = fx - i, ty = fy - j;
  const vals = [];
  for (let m = -1; m <= 2; m++) {
    const r = f[Math.max(0, Math.min(ny - 1, j + m))];
    vals.push(cr(r[Math.max(0, i - 1)], r[i], r[Math.min(nx - 1, i + 1)], r[Math.min(nx - 1, i + 2)], tx));
  }
  return cr(vals[0], vals[1], vals[2], vals[3], ty);
}
function bandIndex(v) {
  let b = 0;
  while (b < bandEdges.length && v >= bandEdges[b]) b++;
  return b;
}
function drawField(parent, field, x0, y0) {
  const d = bandColors.map(function () { return []; });
  const x1 = Math.round(x0), y1 = Math.round(y0);
  const w = Math.round(PLOT_W), h = Math.round(PLOT_H);
  for (let r = 0; r < h; r++) {
    const lat = LAT_MAX - (r + 0.5) / h * (LAT_MAX - LAT_MIN);
    let start = 0, cur = -1;
    for (let c = 0; c <= w; c++) {
      const b = c < w ? bandIndex(sampleField(field, LON_MIN + (c + 0.5) / w * (LON_MAX - LON_MIN), lat)) : -2;
      if (b !== cur) {
        if (cur >= 0) d[cur].push("M" + (x1 + start) + " " + (y1 + r) + "h" + (c - start) + "v1h" + (start - c) + "z");
        cur = b; start = c;
      }
    }
  }
  d.forEach(function (segs, b) {
    if (!segs.length) return;
    const p = mk("path", parent, { d: segs.join(""), fill: bandColors[b], "shape-rendering": "crispEdges" });
    
    
  });
}
function smoothPath(pts, x0, y0) {
  const P = pts.map(function (q) { return [xScale(x0, q[0]), yScale(y0, q[1])]; });
  const n = P.length;
  const closed = n > 3 && pts[0][0] === pts[n - 1][0] && pts[0][1] === pts[n - 1][1];
  let s = "M" + P[0][0].toFixed(1) + " " + P[0][1].toFixed(1);
  const at = function (k) {
    if (closed) return P[((k % (n - 1)) + (n - 1)) % (n - 1)];
    return P[Math.max(0, Math.min(n - 1, k))];
  };
  for (let k = 0; k < n - 1; k++) {
    const a = at(k - 1), b = at(k), c = at(k + 1), e = at(k + 2);
    s += "C" + (b[0] + (c[0] - a[0]) / 6).toFixed(1) + " " + (b[1] + (c[1] - a[1]) / 6).toFixed(1) + " " +
         (c[0] - (e[0] - b[0]) / 6).toFixed(1) + " " + (c[1] - (e[1] - b[1]) / 6).toFixed(1) + " " +
         c[0].toFixed(1) + " " + c[1].toFixed(1);
  }
  return s;
}
function polyPath(pts, x0, y0) {
  return pts.map(function (q, k) {
    return (k ? "L" : "M") + xScale(x0, q[0]).toFixed(1) + " " + yScale(y0, q[1]).toFixed(1);
  }).join("");
}
function drawSeries(parent, lines, color, x0, y0, clip) {
  lines.forEach(function (pts) {
    const p = mk("path", parent, { d: smoothPath(pts, x0, y0), fill: "none", stroke: color, "stroke-width": "2", "clip-path": clip });
    
    
  });
}
function drawPanel(idx) {
  const col = idx < 4 ? 0 : 1, row = idx % 4;
  const x0 = COL_X[col], y0 = ROW_Y[row];
  const root = document.getElementById("panels");
  const g = mk("g", root, {});
  
  
  const cp = mk("clipPath", g, { id: "clip" + idx });
  mk("rect", cp, { x: x0, y: y0, width: PLOT_W, height: PLOT_H });
  const clip = "url(#clip" + idx + ")";

  drawField(g, panelFields[idx], x0, y0);

  equatorOceanSpans.forEach(function (sp) {
    const l = mk("line", g, { x1: xScale(x0, sp[0]), x2: xScale(x0, sp[1]), y1: yScale(y0, 0), y2: yScale(y0, 0), stroke: "#444", "stroke-width": "1.6", "stroke-dasharray": "5 4" });
    
    
  });
  const mer = mk("line", g, { x1: xScale(x0, 0), x2: xScale(x0, 0), y1: yScale(y0, meridianOceanSpan[0]), y2: yScale(y0, meridianOceanSpan[1]), stroke: "#444", "stroke-width": "1.5", "stroke-dasharray": "5 4" });
  
  

  drawSeries(g, panelMjo[idx], "#000000", x0, y0, clip);
  drawSeries(g, panelKelvin[idx], "#0000ff", x0, y0, clip);
  drawSeries(g, panelLow[idx], "#a020f0", x0, y0, clip);
  drawSeries(g, panelEr[idx], "#ff0000", x0, y0, clip);

  const coast = mk("path", g, { d: coastlines.map(function (c) { return polyPath(c, x0, y0); }).join(""), fill: "none", stroke: "#555", "stroke-width": "1.8", "stroke-linejoin": "round", "clip-path": clip });
  
  
  const bord = mk("path", g, { d: borders.map(function (c) { return polyPath(c, x0, y0); }).join(""), fill: "none", stroke: "#555", "stroke-width": "1.7", "stroke-linejoin": "round", "clip-path": clip });
  
  

  const frame = mk("rect", g, { x: x0, y: y0, width: PLOT_W, height: PLOT_H, fill: "none", stroke: "#000", "stroke-width": "3" });
  
  

  // ticks
  let tick = "";
  for (let lon = LON_MIN; lon <= LON_MAX; lon += 10) {
    const x = xScale(x0, lon).toFixed(1);
    const major = lonMajorTicks.indexOf(lon) >= 0;
    const len = major ? 6 : 2.5;
    tick += "M" + x + " " + y0 + "v" + (-len) + "M" + x + " " + (y0 + PLOT_H) + "v" + len;
  }
  for (let lat = LAT_MIN; lat <= LAT_MAX; lat += 2) {
    const y = yScale(y0, lat).toFixed(1);
    const major = lat % 10 === 0;
    const len = major ? 5.5 : 2.5;
    tick += "M" + x0 + " " + y + "h" + (-len) + "M" + (x0 + PLOT_W) + " " + y + "h" + len;
  }
  const ticks = mk("path", g, { d: tick, fill: "none", stroke: "#000", "stroke-width": "1.7" });
  
  

  if (col === 0) {
    latTickValues.forEach(function (v, k) {
      const t = mk("text", g, { x: 74, y: yScale(y0, v) + 12, "text-anchor": "end", "class": "t34" });
      t.textContent = latTickLabels[k];
      
      
    });
  }
  const title = mk("text", g, { x: x0 - 2, y: y0 - 8, "class": "tt" });
  title.textContent = panelTitles[idx];
  
  
  if (row === 0) {
    const tag = mk("text", g, { x: x0 + PLOT_W + 1, y: y0 - 8, "text-anchor": "end", "class": "tt" });
    tag.textContent = col === 0 ? "Observed" : "CFS Forecast";
    
    
  }
}
for (let i = 0; i < panelTitles.length; i++) drawPanel(i);

// ---------- colour bar ----------
(function () {
  const bar = document.getElementById("colorbar");
  const x0 = 229.5, y0 = 971.5, w = 54.8, h = 23;
  bandColors.forEach(function (c, k) {
    const r = mk("rect", bar, { x: x0 + k * w, y: y0, width: w, height: h, fill: c, stroke: "#222", "stroke-width": "1.4" });
    
    
  });
  bandEdges.forEach(function (v, k) {
    const t = mk("text", bar, { x: x0 + (k + 1) * w, y: 1024, "text-anchor": "middle", style: "font-size:30px" });
    t.textContent = String(v);
    
    
  });
})();
</script>
</body>
</html>
